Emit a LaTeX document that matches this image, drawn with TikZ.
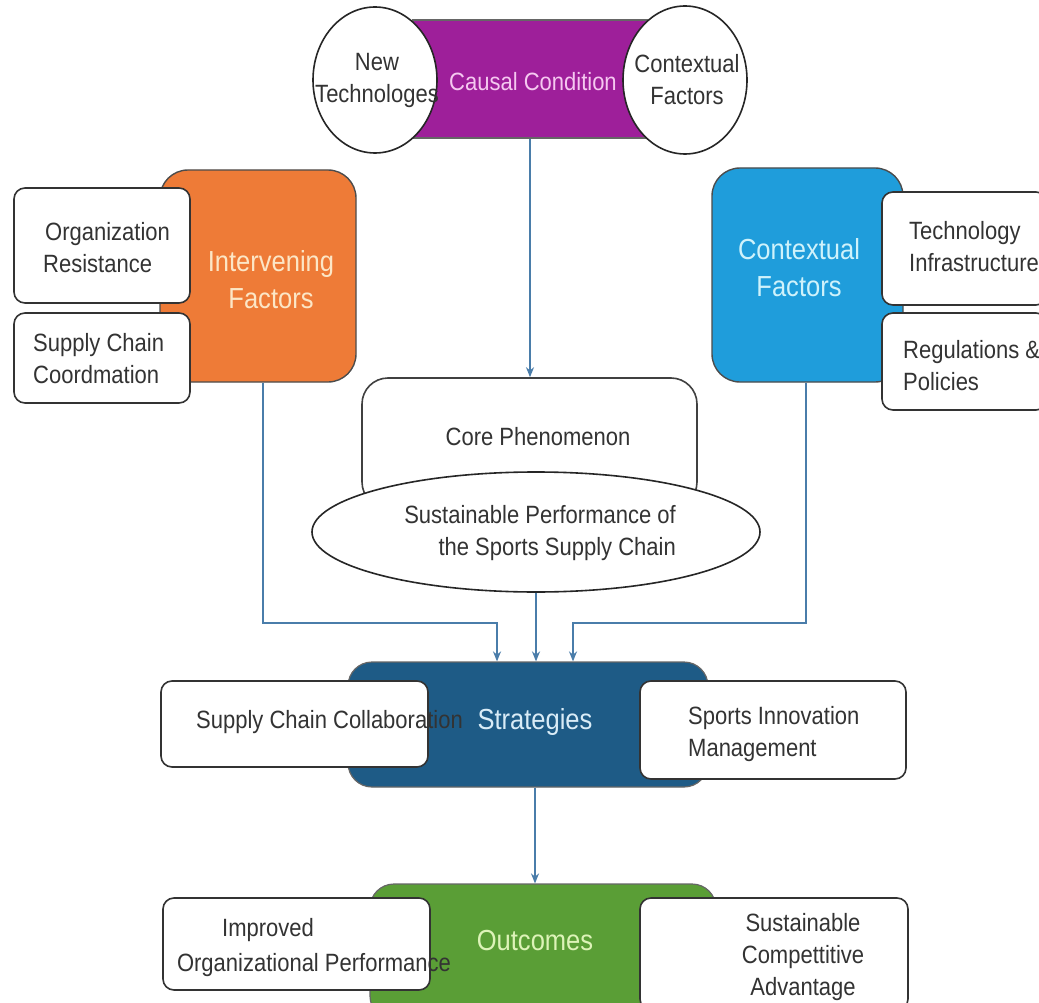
\documentclass[tikz,border=0pt]{standalone}
\usepackage{fontspec}
\setmainfont[FakeStretch=0.88]{Liberation Sans}
\usetikzlibrary{shapes.geometric,arrows.meta}
\definecolor{causalc}{HTML}{9E1F9A}
\definecolor{causalt}{HTML}{F5C8F0}
\definecolor{orangec}{HTML}{EE7B37}
\definecolor{oranget}{HTML}{FCE6C6}
\definecolor{bluec}{HTML}{1F9DDB}
\definecolor{bluet}{HTML}{CFF2FB}
\definecolor{stratc}{HTML}{1E5B86}
\definecolor{stratt}{HTML}{D9ECF7}
\definecolor{outc}{HTML}{5A9E36}
\definecolor{outt}{HTML}{DDF3B8}
\definecolor{arrc}{HTML}{4A7DAA}
\definecolor{txt}{HTML}{333333}
\begin{document}
\begin{tikzpicture}[x=1pt,y=-1pt,
  wbox/.style={draw=black!80, line width=1.6pt, fill=white, rounded corners=11pt, inner sep=0pt},
  bigbox/.style={draw=black!70, line width=1.4pt, rounded corners=28pt, inner sep=0pt},
  circ/.style={ellipse, draw=black!85, line width=1.6pt, fill=white, inner sep=0pt},
  lbl/.style={font=\fontsize{25}{32}\selectfont, text=txt, inner sep=0pt},
  biglbl/.style={font=\fontsize{29}{37}\selectfont, inner sep=0pt, align=center},
  arr/.style={draw=arrc, line width=1.6pt, -{Stealth[length=10pt,width=8pt]}}
]
\useasboundingbox (0,0) rectangle (1039,1003);
\fill[white] (0,0) rectangle (1039,1003);
\clip (0,0) rectangle (1039,1003);

% ---- Causal condition
\node[fill=causalc, draw=black!60, line width=1.2pt, minimum width=234pt, minimum height=118pt, inner sep=0pt] (cc) at (530,79) {};
\node[circ, minimum width=124pt, minimum height=146pt] (nt) at (375,80) {};
\node[circ, minimum width=124pt, minimum height=148pt] (cx) at (685,80) {};
\node[lbl, text=causalt] (cct) at (533,82) {Causal Condition};
\node[lbl, align=center] (ntt) at (377,80) {New\\Technologes};
\node[lbl, align=center] (cxt) at (687,80) {Contextual\\Factors};

% ---- Intervening
\node[bigbox, fill=orangec, minimum width=196pt, minimum height=212pt] (iv) at (258,276) {};
\node[biglbl, text=oranget] (ivt) at (271,280) {Intervening\\Factors};
\node[wbox, minimum width=176pt, minimum height=115pt] (or) at (102,245.5) {};
\node[lbl, align=left, anchor=west] (ort) at (43,248) {\hspace*{2pt}Organization\\Resistance};
\node[wbox, minimum width=176pt, minimum height=90pt] (sc) at (102,358) {};
\node[lbl, align=left, anchor=west] (sct) at (33,359) {Supply Chain\\Coordmation};

% ---- Contextual
\node[bigbox, fill=bluec, minimum width=191pt, minimum height=214pt] (cf) at (807.5,275) {};
\node[biglbl, text=bluet] (cft) at (799,268) {Contextual\\Factors};
\node[wbox, minimum width=165pt, minimum height=113pt] (ti) at (964.5,248.5) {};
\node[lbl, align=left, anchor=west] (tit) at (909,247) {Technology\\Infrastructure};
\node[wbox, minimum width=165pt, minimum height=97pt] (rp) at (964.5,361.5) {};
\node[lbl, align=left, anchor=west] (rpt) at (903,366) {Regulations \&\\Policies};

% ---- Core phenomenon
\node[draw=black!75, line width=1.6pt, fill=white, rounded corners=26pt, minimum width=335pt, minimum height=130pt, inner sep=0pt] (core) at (529.5,443) {};
\node[lbl] (coret) at (538,437) {Core Phenomenon};
\node[circ, minimum width=448pt, minimum height=120pt] (sp) at (536,532) {};
\node[lbl, align=right, anchor=east] (spt) at (676,533) {Sustainable Performance of\\the Sports Supply Chain};

% ---- Strategies
\node[fill=stratc, draw=black!60, line width=1.2pt, rounded corners=24pt, minimum width=360pt, minimum height=125pt, inner sep=0pt] (st) at (528,724.5) {};
\node[wbox, minimum width=267pt, minimum height=86pt] (col) at (294.5,724) {};
\node[wbox, minimum width=266pt, minimum height=98pt] (sim) at (773,730) {};
\node[lbl, anchor=west] (colt) at (196,722) {Supply Chain Collaboration};
\node[lbl, align=left, anchor=west] (simt) at (688,734) {Sports Innovation\\Management};
\node[biglbl, text=stratt] (stt) at (535,722) {Strategies};

% ---- Outcomes
\node[fill=outc, draw=black!60, line width=1.2pt, rounded corners=24pt, minimum width=346pt, minimum height=136pt, inner sep=0pt] (oc) at (543,952) {};
\node[wbox, minimum width=267pt, minimum height=92pt] (iop) at (296.5,944) {};
\node[wbox, minimum width=268pt, minimum height=112pt] (sca) at (774,954) {};
\node[lbl] (iopt1) at (268,930) {Improved};
\node[lbl] (iopt2) at (314,965) {Organizational Performance};
\node[lbl, align=center] (scat) at (803,957) {Sustainable\\Compettitive\\Advantage};
\node[biglbl, text=outt] (oct) at (535,941) {Outcomes};

% ---- Connectors
\draw[arr] (cc.south) -- (cc.south |- core.north);
\draw[arr] ([xshift=5pt]iv.south) -- ++(0,240) -| ([xshift=-31pt]st.north);
\draw[arr] (sp.south) -- (sp.south |- st.north);
\draw[arr] ([xshift=-1.5pt]cf.south) -- ++(0,240) -| ([xshift=45pt]st.north);
\draw[arr] ([xshift=7pt]st.south) -- ([xshift=7pt]st.south |- oc.north);
\end{tikzpicture}
\end{document}
